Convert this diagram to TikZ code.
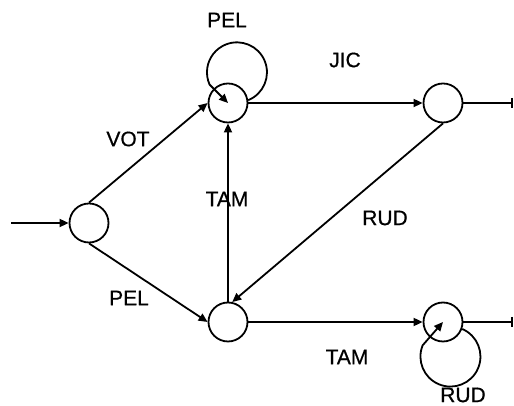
\documentclass[tikz,border=0pt]{standalone}
\usepackage{fontspec}
\setmainfont{Liberation Sans}[FakeBold=0.6]
\usetikzlibrary{arrows.meta}

\begin{document}
\begin{tikzpicture}[x=1pt,y=1pt,line width=1.8pt,
  loc/.style={draw,circle,minimum size=39pt,inner sep=0pt},
  arr/.style={-{Triangle[length=9pt,width=8pt]}},
  outl/.style={-{Bar[width=10pt]}},
  lab/.style={font=\fontsize{21}{25}\selectfont}]
\useasboundingbox (0,0) rectangle (514,406);
\node[loc] (s) at (89,183) {};
\node[loc] (a) at (228,303) {};
\node[loc] (b) at (443,303) {};
\node[loc] (c) at (228,84) {};
\node[loc] (d) at (443,84) {};
\coordinate (start) at (11,183);
\coordinate (bout) at (513,303);
\coordinate (dout) at (513,84);
\draw[arr] (start) -- (s);
\draw[arr] (s.north) -- (a.west);
\draw[arr] (s.south) -- (c.west);
\draw[arr] (a.east) -- (b.west);
\draw[arr] (c.east) -- (d.west);
\draw[arr] (c.north) -- (a.south);
\draw[arr] (b.south) -- (c.78);
\draw[outl] (b.east) -- (bout);
\draw[outl] (d.east) -- (dout);
\draw[arr] (a.8) arc[start angle=-68,end angle=204,radius=30] -- (a.center);
\draw[arr] (d.-20) arc[start angle=67,end angle=-202,radius=30] -- (d.center);
\node[lab] (lpel) at (227,386) {PEL};
\node[lab] (ljic) at (345,346) {JIC};
\node[lab] (lvot) at (128,267) {VOT};
\node[lab] (ltam) at (227,207) {TAM};
\node[lab] (lrud) at (385,188) {RUD};
\node[lab] (lpel2) at (129,108) {PEL};
\node[lab] (ltam2) at (347,49) {TAM};
\node[lab] (lrud2) at (463,11) {RUD};
\end{tikzpicture}
\end{document}
